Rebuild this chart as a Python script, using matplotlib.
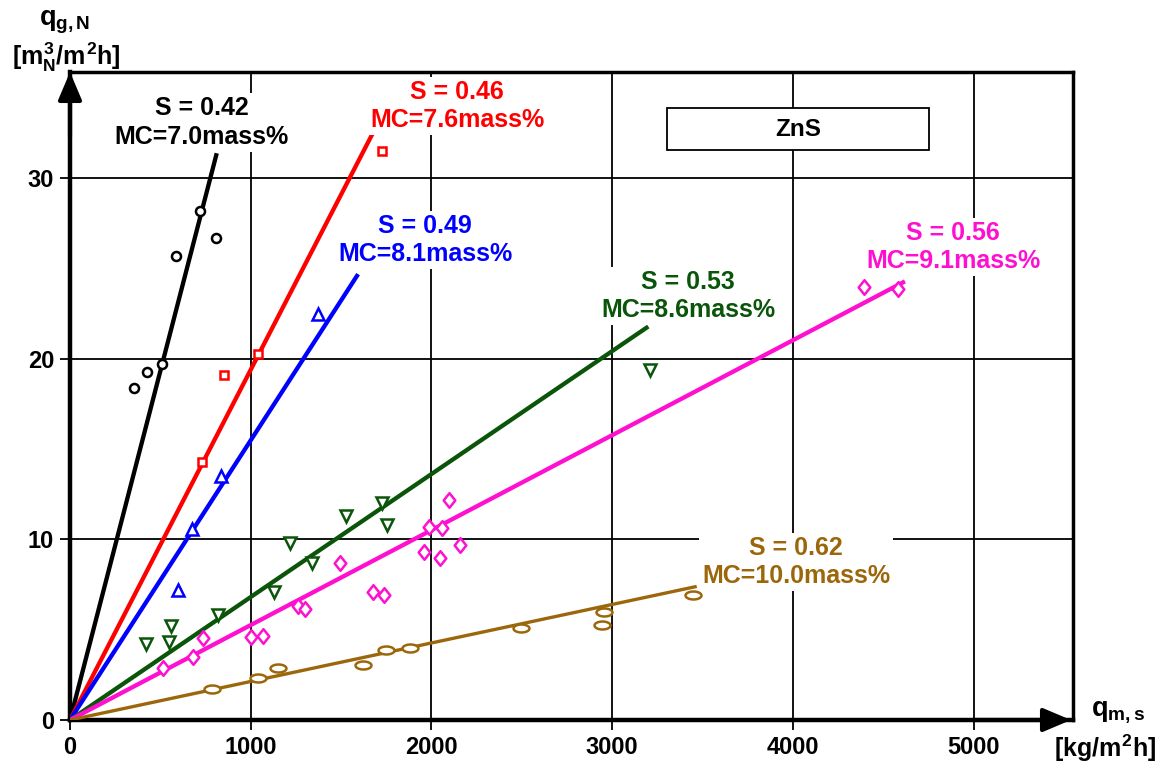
import numpy as np
import matplotlib
matplotlib.use('Agg')
import matplotlib.pyplot as plt
from matplotlib.path import Path
from matplotlib.patches import Rectangle

plt.rcParams['font.family'] = ['Liberation Sans', 'DejaVu Sans']
plt.rcParams['font.weight'] = 'bold'
plt.rcParams['mathtext.fontset'] = 'custom'
plt.rcParams['mathtext.rm'] = 'Liberation Sans:bold'
plt.rcParams['mathtext.it'] = 'Liberation Sans:bold'
plt.rcParams['mathtext.bf'] = 'Liberation Sans:bold'

# measured points, q_m,s [kg/m2h] vs q_g,N [m3N/m2h]
s042_x = [356, 428, 507, 587, 719, 806]
s042_y = [18.4, 19.3, 19.7, 25.7, 28.2, 26.7]

s046_x = [729, 854, 1042, 1725]
s046_y = [14.3, 19.1, 20.3, 31.5]

s049_x = [599, 677, 834, 1372]
s049_y = [7.2, 10.6, 13.5, 22.5]

s053_x = [420, 550, 557, 821, 1129, 1218, 1341, 1527, 1729, 1752, 3210]
s053_y = [4.2, 4.3, 5.2, 5.8, 7.1, 9.8, 8.7, 11.3, 12.0, 10.8, 19.4]

s056_x = [517, 683, 738, 1002, 1066, 1260, 1300, 1494, 1675, 1738,
          1961, 1988, 2048, 2059, 2097, 2158, 4396, 4584]
s056_y = [2.9, 3.5, 4.55, 4.6, 4.65, 6.3, 6.15, 8.7, 7.1, 6.9,
          9.3, 10.7, 9.0, 10.65, 12.2, 9.7, 24.0, 23.9]

s062_x = [784, 1042, 1149, 1623, 1747, 1882, 2494, 2944, 2955, 3446]
s062_y = [1.7, 2.3, 2.9, 3.05, 3.9, 4.0, 5.1, 5.25, 6.0, 6.9]

# fitted lines start at origin, end points
fit_end_x = [812, 1680, 1594, 3200, 4620, 3468]
fit_end_y = [31.4, 32.6, 24.7, 21.8, 24.3, 7.4]

labels = ['S = 0.42\nMC=7.0mass%', 'S = 0.46\nMC=7.6mass%', 'S = 0.49\nMC=8.1mass%',
          'S = 0.53\nMC=8.6mass%', 'S = 0.56\nMC=9.1mass%', 'S = 0.62\nMC=10.0mass%']
label_x = [730, 2142, 1965, 3420, 4887, 4018]
label_y = [33.1, 34.0, 26.6, 23.5, 26.2, 8.75]

colors = ['black', '#ff0000', '#0000ff', '#0a550a', '#ff10d0', '#9c670a']

xs = [s042_x, s046_x, s049_x, s053_x, s056_x, s062_x]
ys = [s042_y, s046_y, s049_y, s053_y, s056_y, s062_y]

t = np.linspace(0, 2 * np.pi, 40)
ellipse = Path(np.column_stack([np.cos(t), 0.5 * np.sin(t)]), closed=True)
diamond = Path([(0, 1), (0.8, 0), (0, -1), (-0.8, 0), (0, 1)], closed=True)
markers = ['o', 's', '^', 'v', diamond, ellipse]
msizes = [6.5, 5.5, 8, 8, 10.5, 11.5]
lwidths = [3.1, 3.1, 3.1, 3.1, 3.1, 2.4]

fig = plt.figure(figsize=(11.65, 7.66), dpi=100)
ax = fig.add_axes([70 / 1165, 46 / 766, 1003 / 1165, 648 / 766])

for i in range(6):
    ax.plot([0, fit_end_x[i]], [0, fit_end_y[i]], color=colors[i], lw=lwidths[i],
            solid_capstyle='butt', zorder=3)
    ax.plot(xs[i], ys[i], linestyle='none', marker=markers[i], ms=msizes[i],
            mfc='white', mec=colors[i], mew=1.8, zorder=4)
    ax.text(label_x[i], label_y[i], labels[i], color=colors[i], fontsize=18,
            ha='center', va='center', linespacing=1.22, zorder=5,
            bbox=dict(boxstyle='square,pad=0.12', fc='white', ec='none'))

# ZnS box
ax.add_patch(Rectangle((3304, 31.6), 1450, 2.3, fc='white', ec='black', lw=1.3, zorder=5))
ax.text(4027, 32.72, 'ZnS', fontsize=17.5, ha='center', va='center', zorder=6)

ax.set_xlim(0, 5550)
ax.set_ylim(0, 35.9)
ax.set_xticks([0, 1000, 2000, 3000, 4000, 5000])
ax.set_yticks([0, 10, 20, 30])
ax.grid(True, color='black', lw=1.3)
ax.tick_params(direction='out', length=7.5, width=1.3, labelsize=17, pad=4)
for side in ['left', 'bottom']:
    ax.spines[side].set_linewidth(3.2)
for side in ['top', 'right']:
    ax.spines[side].set_linewidth(2.5)

# axis arrows
arrow = dict(arrowstyle='-|>,head_length=0.85,head_width=0.36', mutation_scale=20,
             color='black', lw=3, shrinkA=0, shrinkB=0)
ax.annotate('', xy=(0, 1.0), xytext=(0, 0.9), xycoords='axes fraction',
            arrowprops=arrow, annotation_clip=False)
ax.annotate('', xy=(0.998, 0), xytext=(0.9, 0), xycoords='axes fraction',
            arrowprops=arrow, annotation_clip=False)

fig.text(65 / 1165, 1 - 22 / 766, r'$q_{g,N}$', fontsize=19.5, ha='center', va='center')
fig.text(66 / 1165, 1 - 57 / 766, r'$[m_N^3/m^2h]$', fontsize=18, ha='center', va='center')
fig.text(1118 / 1165, 1 - 712 / 766, r'$q_{m,s}$', fontsize=19.5, ha='center', va='center')
fig.text(1105 / 1165, 1 - 748 / 766, r'$[kg/m^2h]$', fontsize=18, ha='center', va='center')

fig.savefig('out.png', dpi=100)
